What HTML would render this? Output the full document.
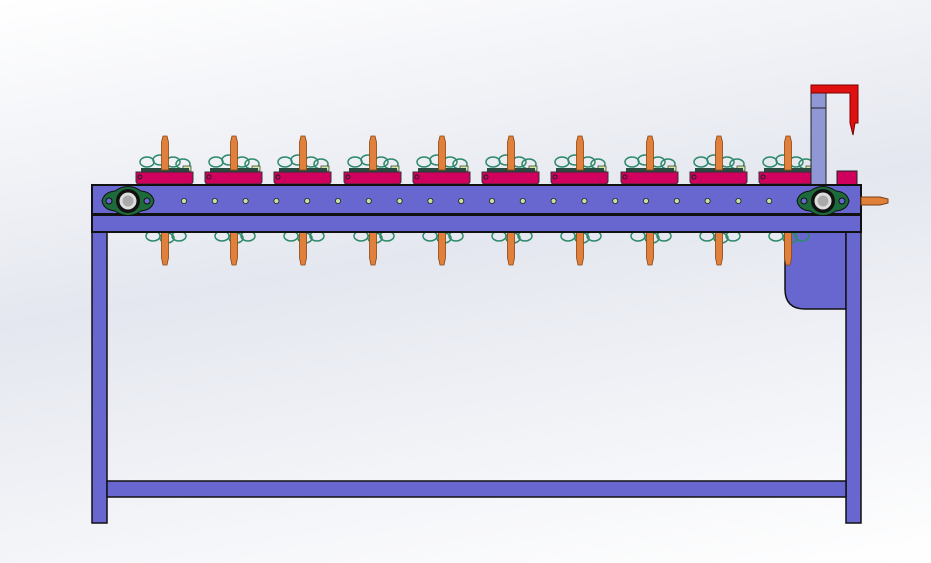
<!DOCTYPE html>
<html><head><meta charset="utf-8"><style>
html,body{margin:0;padding:0;width:931px;height:563px;overflow:hidden}
body{background:linear-gradient(170deg,#ffffff 0%,#e4e7ef 45%,#ffffff 100%)}
</style></head><body>
<svg id="s" width="931" height="563" viewBox="0 0 931 563" xmlns="http://www.w3.org/2000/svg">
<g stroke="#111" stroke-width="1.5" fill="#6767cf">
  <path d="M785 232 H846 V309 H805 Q785 309 785 289 Z"/>
  <rect x="92" y="215" width="15" height="308"/>
  <rect x="846" y="215" width="15" height="308"/>
  <rect x="107" y="481" width="739" height="16"/>
</g>
<g id="mods"></g>
<rect x="811" y="92" width="15" height="94" fill="#8f98d4" stroke="#222" stroke-width="1"/>
<line x1="811" y1="108" x2="826" y2="108" stroke="#222"/>
<path d="M811 85 H858 V123 H855 L853 135 L850 123 V93 H811 Z" fill="#e01010" stroke="#700" stroke-width="1"/>
<rect x="837" y="171" width="20" height="14" fill="#d0005f" stroke="#222"/>
<g stroke="#111" stroke-width="2" fill="#6767cf">
  <rect x="92" y="185" width="769" height="29"/>
  <rect x="92" y="215" width="769" height="17"/>
</g>
<path d="M861 197 H880 L888 199 V203 L880 205 H861 Z" fill="#e0803a" stroke="#7a3d10" stroke-width="1"/>
<g id="holes"></g>
<g id="brg"></g>
</svg>
<script>
var ns="http://www.w3.org/2000/svg";
function el(p,t,a){var e=document.createElementNS(ns,t);for(var k in a)e.setAttribute(k,a[k]);p.appendChild(e);return e;}
var m=document.getElementById('mods');
[165,234,303,373,442,511,580,650,719,788].forEach(function(c){
  [[-18,162],[-5,160],[8,162],[18,164],[-12,236],[2,238],[14,236]].forEach(function(p){
    el(m,'ellipse',{cx:c+p[0],cy:p[1],rx:7,ry:5,fill:'none',stroke:'#2e8a6a','stroke-width':1.5});});
  el(m,'rect',{x:c+18,y:166,width:8,height:5,fill:'#cde8a0',stroke:'#333','stroke-width':0.7});
  el(m,'rect',{x:c-24,y:168,width:48,height:4,fill:'#2a4a40'});
  el(m,'path',{d:'M'+(c-29)+' 172 H'+(c+28)+' V181 Q'+(c+28)+' 184 '+(c+25)+' 184 H'+(c-26)+' Q'+(c-29)+' 184 '+(c-29)+' 181 Z',fill:'#d0005f',stroke:'#333','stroke-width':1});
  el(m,'circle',{cx:c-25,cy:177,r:2,fill:'none',stroke:'#222'});
  el(m,'path',{d:'M'+(c-3.5)+' 170 V142 L'+(c-2)+' 136 H'+(c+2)+' L'+(c+3.5)+' 142 V170 Z',fill:'#e0803a',stroke:'#8a4515','stroke-width':0.8});
  el(m,'path',{d:'M'+(c-3.5)+' 232 V258 L'+(c-2)+' 265 H'+(c+2)+' L'+(c+3.5)+' 258 V232 Z',fill:'#e0803a',stroke:'#8a4515','stroke-width':0.8});
});
var h=document.getElementById('holes');
for(var i=0;i<21;i++){var x=184+i*30.8;if(x>800)break;el(h,'circle',{cx:x,cy:201,r:2.6,fill:'#c8e0a0',stroke:'#222','stroke-width':0.8});}
var b=document.getElementById('brg');
[128,823].forEach(function(x){
  el(b,'path',{d:'M'+(x-26)+' 201 Q'+(x-24)+' 192 '+(x-13)+' 191 Q'+x+' 182 '+(x+13)+' 191 Q'+(x+24)+' 192 '+(x+26)+' 201 Q'+(x+24)+' 210 '+(x+13)+' 211 Q'+x+' 220 '+(x-13)+' 211 Q'+(x-24)+' 210 '+(x-26)+' 201 Z',fill:'#1d6b3a',stroke:'#111','stroke-width':1});
  el(b,'circle',{cx:x-19,cy:201,r:3,fill:'#6767cf',stroke:'#111'});
  el(b,'circle',{cx:x+19,cy:201,r:3,fill:'#6767cf',stroke:'#111'});
  el(b,'circle',{cx:x,cy:201,r:12,fill:'#111'});
  el(b,'circle',{cx:x,cy:201,r:9,fill:'#ddd',stroke:'#111'});
  el(b,'circle',{cx:x,cy:201,r:5.5,fill:'#aaa'});
});
</script>
</body></html>
